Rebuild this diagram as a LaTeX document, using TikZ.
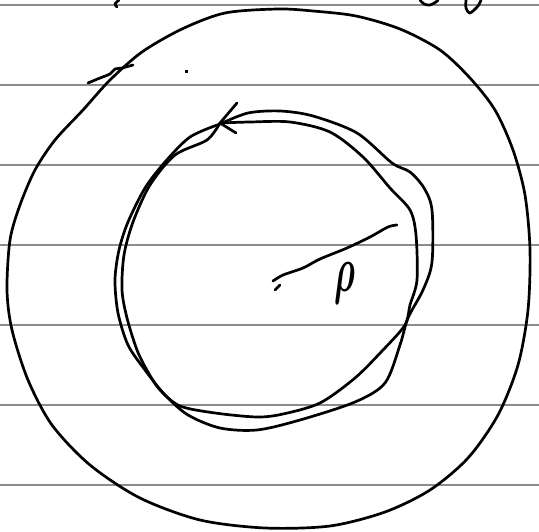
\documentclass[tikz,border=0pt]{standalone}
\usepackage{amsmath}
\begin{document}
\begin{tikzpicture}[x=1pt,y=-1pt,
  ruled/.style={draw=black!45,line width=1.8pt},
  ink/.style={draw=black,line width=2.7pt,line join=round,line cap=round}]
\useasboundingbox (0,0) rectangle (539,532);
\fill[white] (0,0) rectangle (539,532);
% ruled paper lines
\foreach \yy in {5,85,165,245,325,405,485}
  \draw[ruled] (0,\yy) -- (539,\yy);
% outer circle
\draw[ink] plot[smooth cycle] coordinates {(278,9) (313,11) (356,16) (400,29) (440,50) (470,78) (495,110) (513,150) (525,195) (530,250) (528,310) (518,365) (498,415) (468,458) (430,490) (385,512) (330,526) (265,528) (200,520) (140,498) (90,465) (52,425) (28,380) (12,330) (7,290) (10,240) (20,205) (35,170) (55,140) (83,110) (110,80) (142,52) (182,29) (225,13)};
% inner loop 1
\draw[ink] plot[smooth] coordinates {(220,124) (248,113) (280,111) (313,116) (357,133) (392,163) (410,172) (424,188) (432,210) (432,262) (423,290) (408,318) (400,345) (385,383) (355,402) (300,420) (257,430) (220,428) (188,415) (165,395) (145,370) (128,345) (118,313) (115,280) (119,250) (128,222) (145,188) (165,162) (190,137) (220,124)};
% inner loop 2
\draw[ink] plot[smooth] coordinates {(220,123) (250,122) (290,122) (330,132) (363,157) (390,188) (410,210) (416,235) (417,280) (410,305) (405,325) (383,350) (355,378) (320,403) (283,414) (257,417) (215,413) (180,406) (160,390) (148,372) (137,350) (127,318) (122,290) (124,255) (133,222) (150,185) (175,155) (207,140) (220,123)};
% arrow barbs
\draw[ink] (237,103) -- (220,123) -- (236,133);
% tick at top-left
\draw[ink] plot[smooth] coordinates {(88,83) (100,78) (110,74) (115,69) (122,68) (133,65)};
% dot
\fill (184.5,70.5) rectangle (187.5,73.5);
% scribbles at top edge
\draw[ink] plot[smooth] coordinates {(119,0) (115,4) (117,7)};
\draw[ink] plot[smooth] coordinates {(420,0) (424,4) (430,5) (436,2) (438,0)};
\draw[ink] plot[smooth] coordinates {(466,0) (466,8) (470,13) (478,6) (481,0)};
% radius line
\draw[ink] plot[smooth] coordinates {(273,281) (283,275) (303,268) (320,259) (347,248) (370,237) (388,227) (397,225)};
\draw[ink] (275,290) -- (280,285);
% rho label
\node[inner sep=0pt,anchor=base,xscale=3.4,yscale=6.5] (rho) at (345,292) {$\boldsymbol{\rho}$};
\end{tikzpicture}
\end{document}
